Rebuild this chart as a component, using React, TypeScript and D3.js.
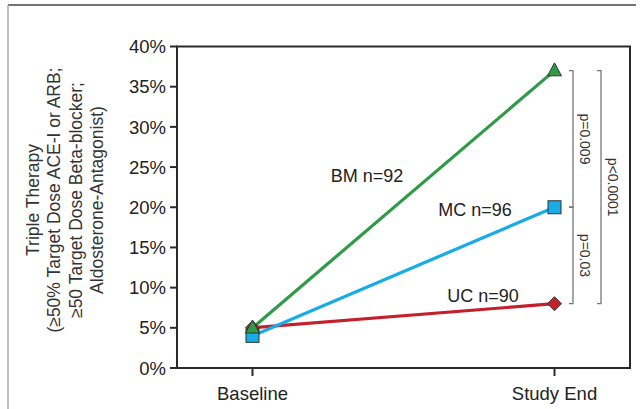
import React from "react";
import * as d3 from "d3";

const categories = ["Baseline", "Study End"];
const seriesNames = ["UC n=90", "MC n=96", "BM n=92"];
const ucValues = [5, 8];
const mcValues = [4, 20];
const bmValues = [5, 37];
const yTicks = [0, 5, 10, 15, 20, 25, 30, 35, 40];
const titleLines = [
  "Triple Therapy",
  "(\u226550% Target Dose ACE-I or ARB;",
  "\u226550 Target Dose Beta-blocker;",
  "Aldosterone-Antagonist)",
];
const brackets = [
  { from: 37, to: 20, label: "p=0.009", col: 0 },
  { from: 20, to: 8, label: "p=0.03", col: 0 },
  { from: 37, to: 8, label: "p<0.0001", col: 1 },
];

const W = 641;
const H = 409;
const left = 177;
const right = 630;
const top = 46.5;
const bottom = 368;
const font = "'Liberation Sans', Arial, sans-serif";

export default function App() {
  const x = d3.scalePoint<string>().domain(categories).range([left, right]).padding(0.25);
  const y = d3.scaleLinear().domain([0, 40]).range([bottom, top]);
  const line = d3
    .line<number>()
    .x((_, i) => x(categories[i]) as number)
    .y((d) => y(d));

  const series = [
    { name: seriesNames[0], values: ucValues, color: "#c4202c", marker: "diamond", lx: 483, ly: 302 },
    { name: seriesNames[1], values: mcValues, color: "#17ace6", marker: "square", lx: 475, ly: 216 },
    { name: seriesNames[2], values: bmValues, color: "#2f9a47", marker: "triangle", lx: 367, ly: 182 },
  ];

  const marker = (type: string, cx: number, cy: number, color: string, key: string) => {
    if (type === "square") {
      return <rect key={key} x={cx - 6.5} y={cy - 6.5} width={13} height={13} fill={color} stroke="#333" strokeWidth={1} />;
    }
    if (type === "diamond") {
      const s = 7;
      return (
        <path key={key} d={`M${cx},${cy - s}L${cx + s},${cy}L${cx},${cy + s}L${cx - s},${cy}Z`} fill={color} stroke="#333" strokeWidth={1} />
      );
    }
    const w = 7, h = 13;
    return (
      <path key={key} d={`M${cx},${cy - h * 0.6}L${cx + w},${cy + h * 0.4}L${cx - w},${cy + h * 0.4}Z`} fill={color} stroke="#333" strokeWidth={1} />
    );
  };

  const bracketX = [573, 601];
  const textX = [585, 613];

  return (
    <svg width={W} height={H} style={{ position: "absolute", left: 0, top: 0 }} fontFamily={font}>
      <rect x={0} y={0} width={W} height={H} fill="#fff" />
      {/* outer frame */}
      <line x1={8} y1={5} x2={636} y2={5} stroke="#444" strokeWidth={1.5} />
      <line x1={8} y1={5} x2={8} y2={H} stroke="#aaa" strokeWidth={1.5} />

      {/* plot frame */}
      <rect x={left} y={top} width={right - left} height={bottom - top} fill="none" stroke="#2a2a2a" strokeWidth={2} />

      {/* y ticks */}
      {yTicks.map((t) => (
        <g key={t}>
          <line x1={170} x2={left} y1={y(t)} y2={y(t)} stroke="#2a2a2a" strokeWidth={2} />
          <text x={166} y={y(t)} dy="0.36em" textAnchor="end" fontSize={18.5} fill="#222">
            {t}%
          </text>
        </g>
      ))}

      {/* x ticks */}
      {categories.map((c) => (
        <g key={c}>
          <line x1={x(c)} x2={x(c)} y1={bottom} y2={bottom + 8} stroke="#2a2a2a" strokeWidth={2} />
          <text x={x(c)} y={400} textAnchor="middle" fontSize={18.5} fill="#222">
            {c}
          </text>
        </g>
      ))}

      {/* y title */}
      {titleLines.map((l, i) => (
        <text
          key={i}
          transform={`translate(${[33, 54, 76, 97][i]},${200}) rotate(-90)`}
          textAnchor="middle"
          dominantBaseline="central"
          fontSize={17.5}
          fill="#333"
        >
          {l}
        </text>
      ))}

      {/* lines */}
      {series.map((s) => (
        <path key={s.name} d={line(s.values) as string} fill="none" stroke={s.color} strokeWidth={3.2} />
      ))}
      {series.map((s) =>
        s.values.map((v, i) => marker(s.marker, x(categories[i]) as number, y(v), s.color, s.name + i))
      )}

      {/* series labels */}
      {series.map((s) => (
        <text key={s.name + "l"} x={s.lx} y={s.ly} textAnchor="middle" fontSize={18} fill="#222">
          {s.name}
        </text>
      ))}

      {/* brackets */}
      {brackets.map((b, i) => {
        const bx = bracketX[b.col];
        const y1 = y(b.from);
        const y2 = y(b.to);
        return (
          <g key={i}>
            <path d={`M${bx - 4},${y1}H${bx}V${y2}H${bx - 4}`} fill="none" stroke="#777" strokeWidth={1.3} />
            <text
              transform={`translate(${textX[b.col]},${(y1 + y2) / 2}) rotate(90)`}
              textAnchor="middle"
              dominantBaseline="central"
              fontSize={14}
              fill="#333"
            >
              {b.label}
            </text>
          </g>
        );
      })}
    </svg>
  );
}
